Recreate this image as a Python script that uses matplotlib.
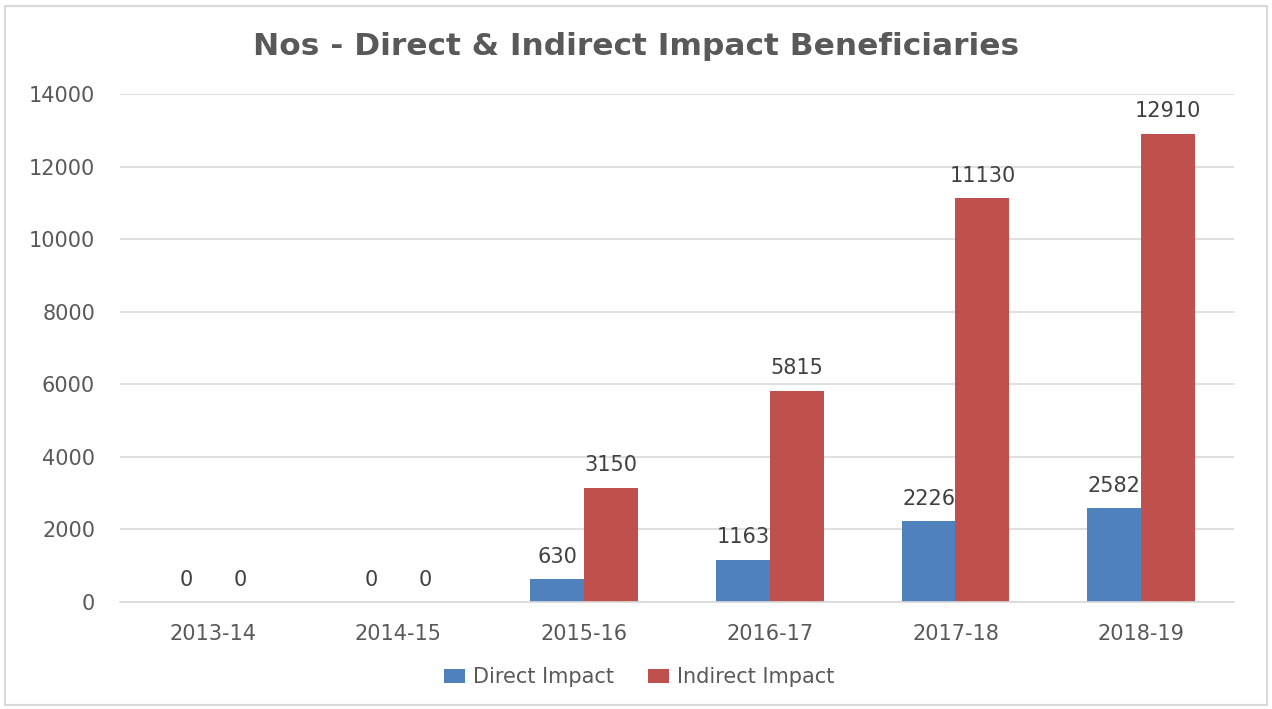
import numpy as np
import matplotlib.pyplot as plt
from matplotlib.patches import Rectangle

years = ['2013-14', '2014-15', '2015-16', '2016-17', '2017-18', '2018-19']
direct = [0, 0, 630, 1163, 2226, 2582]
indirect = [0, 0, 3150, 5815, 11130, 12910]

plt.rcParams['font.family'] = ['DejaVu Sans']
txt = '#595959'

fig = plt.figure(figsize=(12.72, 7.09), dpi=100)
ax = fig.add_axes([120 / 1272, 107 / 709, 1114 / 1272, 508 / 709])

x = np.arange(len(years))
w = 0.29
b1 = ax.bar(x - w / 2, direct, w, color='#4F81BD', label='Direct Impact')
b2 = ax.bar(x + w / 2, indirect, w, color='#C0504D', label='Indirect Impact')

for bars in (b1, b2):
    ax.bar_label(bars, padding=9, fontsize=15, color='#404040')

ax.set_xlim(-0.5, len(years) - 0.5)
ax.set_ylim(0, 14000)
ax.set_yticks(range(0, 14001, 2000))
ax.set_xticks(x)
ax.set_xticklabels(years)
ax.tick_params(axis='both', length=0, labelsize=15, labelcolor=txt)
ax.tick_params(axis='y', pad=18)
ax.tick_params(axis='x', pad=16)
ax.grid(axis='y', color='#d9d9d9', linewidth=1.2)
ax.set_axisbelow(True)
for s in ['top', 'right', 'left']:
    ax.spines[s].set_visible(False)
ax.spines['bottom'].set_color('#d9d9d9')
ax.spines['bottom'].set_linewidth(1.2)

fig.text(0.5, 0.935, 'Nos - Direct & Indirect Impact Beneficiaries', ha='center',
         va='center', fontsize=22.5, fontweight='bold', color=txt)

ax.legend(loc='center', bbox_to_anchor=(0.5 * 1272 / 1114 - 120 / 1114 + 0.003, -0.148),
          ncol=2, frameon=False, fontsize=15, labelcolor=txt, handlelength=1.0,
          handleheight=0.7, handletextpad=0.4, columnspacing=1.6)

fig.patches.append(Rectangle((5 / 1272, 4 / 709), 1262 / 1272, 699 / 709,
                             transform=fig.transFigure, fill=False,
                             edgecolor='#d9d9d9', linewidth=1.5))

fig.savefig('out.png', dpi=100, facecolor='white')
